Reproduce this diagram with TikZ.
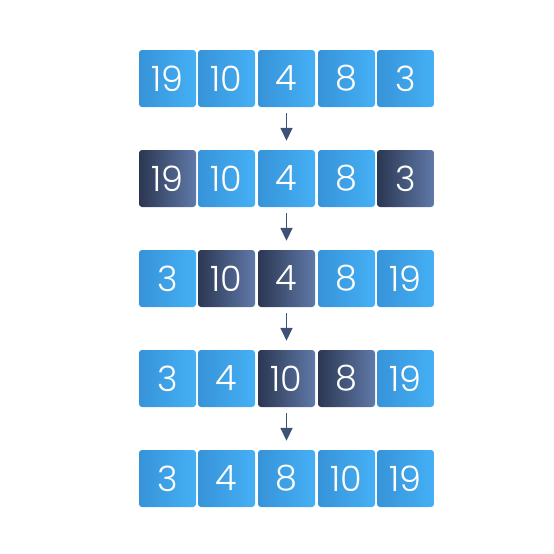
\documentclass[tikz,border=0pt]{standalone}
\usepackage{fontspec}
\setmainfont{Poppins}[UprightFont=* Light]
\usetikzlibrary{arrows.meta}
\definecolor{bluel}{HTML}{3793D9}
\definecolor{bluer}{HTML}{45B0F5}
\definecolor{darkl}{HTML}{2B3752}
\definecolor{darkr}{HTML}{6079A8}
\definecolor{arrowc}{HTML}{3E5276}
\tikzset{
  cell/.style={minimum width=57pt, minimum height=57pt, rounded corners=3pt, inner sep=0pt,
    text=white, font=\fontsize{35}{35}\selectfont},
  bluecell/.style={cell, left color=bluel, right color=bluer},
  darkcell/.style={cell, left color=darkl, right color=darkr},
  flow/.style={draw=arrowc, line width=1.6pt, -{Triangle[width=12pt,length=13pt]}}
}
\begin{document}
\begin{tikzpicture}[x=1pt,y=-1pt]
\useasboundingbox (0,0) rectangle (554,554);
% row 1
\node[bluecell] (a1) at (167.5,78.5) {19};
\node[bluecell] (a2) at (226.5,78.5) {10};
\node[bluecell] (a3) at (286.5,78.5) {4};
\node[bluecell] (a4) at (346.5,78.5) {8};
\node[bluecell] (a5) at (405.5,78.5) {3};
% row 2
\node[darkcell] (b1) at (167.5,178.5) {19};
\node[bluecell] (b2) at (226.5,178.5) {10};
\node[bluecell] (b3) at (286.5,178.5) {4};
\node[bluecell] (b4) at (346.5,178.5) {8};
\node[darkcell] (b5) at (405.5,178.5) {3};
% row 3
\node[bluecell] (c1) at (167.5,278.5) {3};
\node[darkcell] (c2) at (226.5,278.5) {10};
\node[darkcell] (c3) at (286.5,278.5) {4};
\node[bluecell] (c4) at (346.5,278.5) {8};
\node[bluecell] (c5) at (405.5,278.5) {19};
% row 4
\node[bluecell] (d1) at (167.5,378.5) {3};
\node[bluecell] (d2) at (226.5,378.5) {4};
\node[darkcell] (d3) at (286.5,378.5) {10};
\node[darkcell] (d4) at (346.5,378.5) {8};
\node[bluecell] (d5) at (405.5,378.5) {19};
% row 5
\node[bluecell] (e1) at (167.5,478.5) {3};
\node[bluecell] (e2) at (226.5,478.5) {4};
\node[bluecell] (e3) at (286.5,478.5) {8};
\node[bluecell] (e4) at (346.5,478.5) {10};
\node[bluecell] (e5) at (405.5,478.5) {19};
% arrows
\draw[flow] ([yshift=-6pt]a3.south) -- ([yshift=9pt]b3.north);
\draw[flow] ([yshift=-6pt]b3.south) -- ([yshift=9pt]c3.north);
\draw[flow] ([yshift=-6pt]c3.south) -- ([yshift=9pt]d3.north);
\draw[flow] ([yshift=-6pt]d3.south) -- ([yshift=9pt]e3.north);
\end{tikzpicture}
\end{document}
